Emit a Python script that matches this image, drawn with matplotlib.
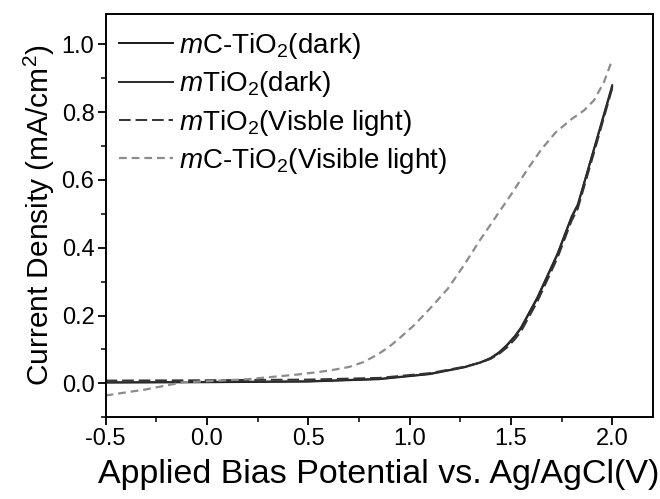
import matplotlib
matplotlib.use("Agg")
import matplotlib.pyplot as plt
from matplotlib.ticker import MultipleLocator

plt.rcParams['font.family'] = ['Liberation Sans', 'DejaVu Sans']
plt.rcParams['mathtext.fontset'] = 'custom'
plt.rcParams['mathtext.rm'] = 'Liberation Sans'
plt.rcParams['mathtext.it'] = 'Liberation Sans:italic'

# mC-TiO2 (dark)
x_c_dark = [-0.5, 0.0, 0.5, 0.85, 1.1, 1.27, 1.35, 1.4, 1.44, 1.48, 1.52, 1.55, 1.63, 1.73, 1.8, 1.83, 1.91, 2.0]
y_c_dark = [0.002, 0.003, 0.005, 0.012, 0.027, 0.047, 0.061, 0.073, 0.089, 0.111, 0.138, 0.162, 0.25, 0.38, 0.49, 0.525, 0.69, 0.875]

# mTiO2 (dark)
x_t_dark = [-0.5, 0.0, 0.5, 0.85, 1.1, 1.27, 1.35, 1.4, 1.44, 1.48, 1.52, 1.55, 1.63, 1.73, 1.8, 1.83, 1.91, 2.0]
y_t_dark = [0.003, 0.004, 0.006, 0.013, 0.028, 0.048, 0.062, 0.075, 0.091, 0.113, 0.14, 0.165, 0.253, 0.383, 0.493, 0.528, 0.692, 0.88]

# mTiO2 (visible light)
x_t_vis = [-0.5, 0.0, 0.5, 0.85, 1.1, 1.27, 1.35, 1.4, 1.44, 1.48, 1.52, 1.55, 1.63, 1.73, 1.8, 1.83, 1.91, 2.0]
y_t_vis = [0.008, 0.009, 0.011, 0.016, 0.03, 0.049, 0.061, 0.072, 0.086, 0.105, 0.13, 0.153, 0.24, 0.37, 0.48, 0.515, 0.68, 0.87]

# mC-TiO2 (visible light)
x_c_vis = [-0.5, -0.3, -0.12, 0.0, 0.2, 0.45, 0.6, 0.7, 0.77, 0.84, 0.9, 0.95, 1.02, 1.1, 1.19, 1.27,
           1.35, 1.43, 1.51, 1.58, 1.65, 1.72, 1.8, 1.86, 1.91, 1.96, 2.0]
y_c_vis = [-0.036, -0.018, 0.003, 0.006, 0.012, 0.026, 0.037, 0.048, 0.062, 0.084, 0.108, 0.133, 0.17, 0.22, 0.28, 0.35,
           0.425, 0.495, 0.565, 0.63, 0.69, 0.74, 0.78, 0.805, 0.835, 0.89, 0.955]

fig = plt.figure(figsize=(6.6, 4.99), dpi=100)
ax = fig.add_axes([0.160, 0.164, 0.829, 0.808])

ax.plot(x_c_dark, y_c_dark, color='#1a1a1a', lw=1.4, label='$m$C-TiO$_2$(dark)')
ax.plot(x_t_dark, y_t_dark, color='#2a2a2a', lw=1.4, label='$m$TiO$_2$(dark)')
ax.plot(x_t_vis, y_t_vis, color='#333333', lw=1.4, dashes=(6, 2.5), label='$m$TiO$_2$(Visble light)')
ax.plot(x_c_vis, y_c_vis, color='#8c8c8c', lw=1.6, dashes=(3.5, 2.2), label='$m$C-TiO$_2$(Visible light)')

ax.set_xlim(-0.5, 2.2)
ax.set_ylim(-0.1, 1.09)
ax.xaxis.set_major_locator(MultipleLocator(0.5))
ax.xaxis.set_minor_locator(MultipleLocator(0.25))
ax.yaxis.set_major_locator(MultipleLocator(0.2))
ax.yaxis.set_minor_locator(MultipleLocator(0.1))
ax.xaxis.set_major_formatter(plt.FuncFormatter(lambda v, p: '%.1f' % v))
ax.yaxis.set_major_formatter(plt.FuncFormatter(lambda v, p: '%.1f' % v))
ax.tick_params(which='major', direction='out', length=6, width=1.3, labelsize=17, pad=2)
ax.tick_params(which='minor', direction='out', length=3.5, width=1.1)
for s in ax.spines.values():
    s.set_linewidth(1.4)

ax.set_xlabel('Applied Bias Potential vs. Ag/AgCl(V)', fontsize=24.5, labelpad=6)
ax.set_ylabel('Current Density (mA/cm$^2$)', fontsize=21.5, labelpad=3)

ax.legend(loc='upper left', frameon=False, fontsize=20, handlelength=1.95,
          handletextpad=0.2, labelspacing=0.3, borderaxespad=0.0,
          bbox_to_anchor=(0.004, 0.985))

fig.savefig('out.png', dpi=100)
